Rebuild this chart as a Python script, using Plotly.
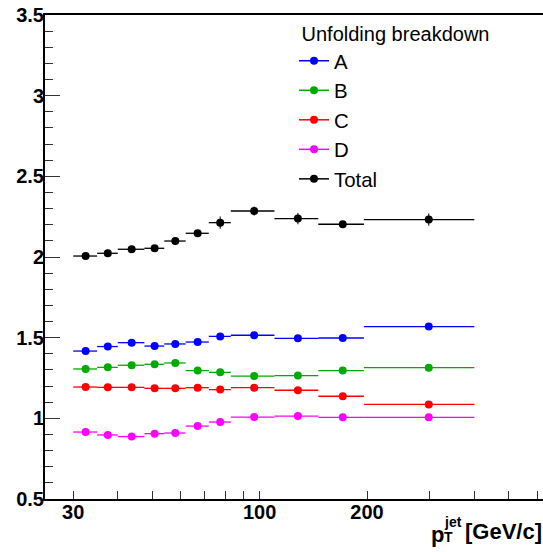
import numpy as np
import plotly.graph_objects as go

# ---------------- data ----------------
bin_edges = [30, 35, 40, 47.5, 54, 62, 72, 83, 110, 146, 196, 400]

val_A = [1.417, 1.445, 1.469, 1.448, 1.461, 1.473, 1.508, 1.515, 1.496, 1.498, 1.569]
val_B = [1.306, 1.316, 1.329, 1.335, 1.343, 1.296, 1.285, 1.262, 1.265, 1.296, 1.314]
val_C = [1.194, 1.192, 1.192, 1.186, 1.186, 1.190, 1.178, 1.190, 1.174, 1.137, 1.086]
val_D = [0.915, 0.897, 0.887, 0.905, 0.909, 0.952, 0.977, 1.008, 1.014, 1.006, 1.006]
val_Total = [2.006, 2.023, 2.048, 2.054, 2.099, 2.147, 2.213, 2.285, 2.238, 2.203, 2.232]
err_Total = [0.010, 0.012, 0.014, 0.014, 0.022, 0.020, 0.038, 0.028, 0.035, 0.012, 0.038]

series_names = ["A", "B", "C", "D", "Total"]
series_colors = ["#0000ff", "#00aa00", "#ff0000", "#ff00ff", "#000000"]

y_tick_vals = [0.5, 1, 1.5, 2, 2.5, 3, 3.5]
y_tick_text = ["0.5", "1", "1.5", "2", "2.5", "3", "3.5"]
x_tick_vals = [30, 40, 50, 60, 70, 80, 90, 100, 200, 300, 400, 500, 600]
x_tick_text = ["30", "", "", "", "", "", "", "100", "200", "", "", "", ""]

# ---------------- derived ----------------
edges = np.array(bin_edges, dtype=float)
centers = 0.5 * (edges[:-1] + edges[1:])
err_plus = edges[1:] - centers
err_minus = centers - edges[:-1]

FONT = "Liberation Sans, Arial, Helvetica, sans-serif"

fig = go.Figure()
all_vals = [val_A, val_B, val_C, val_D, val_Total]
for name, col, vals in zip(series_names, series_colors, all_vals):
    ey = dict(type="data", array=err_Total, color=col, thickness=1, width=0, visible=True) \
        if name == "Total" else dict(visible=False)
    fig.add_trace(go.Scatter(
        x=centers, y=vals, mode="markers", name=name, showlegend=False,
        marker=dict(color=col, size=8, symbol="circle"),
        error_x=dict(type="data", array=err_plus, arrayminus=err_minus, symmetric=False,
                     color=col, thickness=1.3, width=0),
        error_y=ey,
    ))

# legend-only entries (line + marker like the reference legend)
for name, col in zip(series_names, series_colors):
    fig.add_trace(go.Scatter(
        x=[None], y=[None], mode="lines+markers", name=name,
        line=dict(color=col, width=1.5), marker=dict(color=col, size=8),
    ))

x_range = [np.log10(25.0), 2.7946]

fig.update_layout(
    width=543, height=552,
    margin=dict(l=45, r=0, t=15, b=53),
    plot_bgcolor="white", paper_bgcolor="white",
    font=dict(family=FONT, color="black"),
    showlegend=True,
    legend=dict(
        title=dict(text="&nbsp;Unfolding breakdown", font=dict(family=FONT, size=20, color="black")),
        font=dict(family=FONT, size=20.4, color="black"),
        x=(294 - 45) / 498, y=1.0, xanchor="left", yanchor="top",
        bgcolor="rgba(0,0,0,0)", borderwidth=0, itemwidth=30,
    ),
    xaxis=dict(
        type="log", range=x_range,
        tickvals=x_tick_vals, ticktext=x_tick_text,
        ticks="inside", ticklen=8, tickwidth=1, tickcolor="#333",
        tickfont=dict(family=FONT, size=20, color="black", weight="bold"),
        ticklabelstandoff=-6,
        showline=True, linecolor="black", linewidth=2, mirror=True,
        showgrid=False, zeroline=False,
    ),
    xaxis2=dict(
        type="log", range=x_range, overlaying="x", anchor="y", side="bottom",
        tickvals=[100], ticks="inside", ticklen=14, tickwidth=1, tickcolor="#333",
        showticklabels=False, showline=False, showgrid=False, zeroline=False,
    ),
    yaxis=dict(
        range=[0.5, 3.5],
        tickvals=y_tick_vals, ticktext=y_tick_text,
        ticks="inside", ticklen=15, tickwidth=1, tickcolor="#333",
        minor=dict(dtick=0.1, tick0=0.5, ticks="inside", ticklen=8, tickwidth=1, tickcolor="#333"),
        tickfont=dict(family=FONT, size=20, color="black", weight="bold"),
        ticklabelstandoff=-5,
        showline=True, linecolor="black", linewidth=2, mirror=False,
        showgrid=False, zeroline=False,
    ),
)

# axis title built from pieces so that sub- and superscript stack like the original
title_font = dict(family=FONT, size=22, color="black", weight="bold")
small_font = dict(family=FONT, size=14, color="black", weight="bold")
def px_x(p):
    return (p - 45) / 498
def px_y(p):
    return (499 - p) / 484
fig.add_annotation(text="[GeV/c]", xref="paper", yref="paper", x=px_x(544), y=px_y(531),
                   xanchor="right", yanchor="middle", showarrow=False, font=title_font)
fig.add_annotation(text="p", xref="paper", yref="paper", x=px_x(446), y=px_y(534),
                   xanchor="right", yanchor="middle", showarrow=False, font=title_font)
fig.add_annotation(text="jet", xref="paper", yref="paper", x=px_x(442), y=px_y(522),
                   xanchor="left", yanchor="middle", showarrow=False, font=small_font)
fig.add_annotation(text="T", xref="paper", yref="paper", x=px_x(442), y=px_y(537),
                   xanchor="left", yanchor="middle", showarrow=False, font=small_font)

fig.write_html("out.html", config={"displayModeBar": False},
               post_script="document.body.style.margin='0';document.body.style.overflow='hidden';")
